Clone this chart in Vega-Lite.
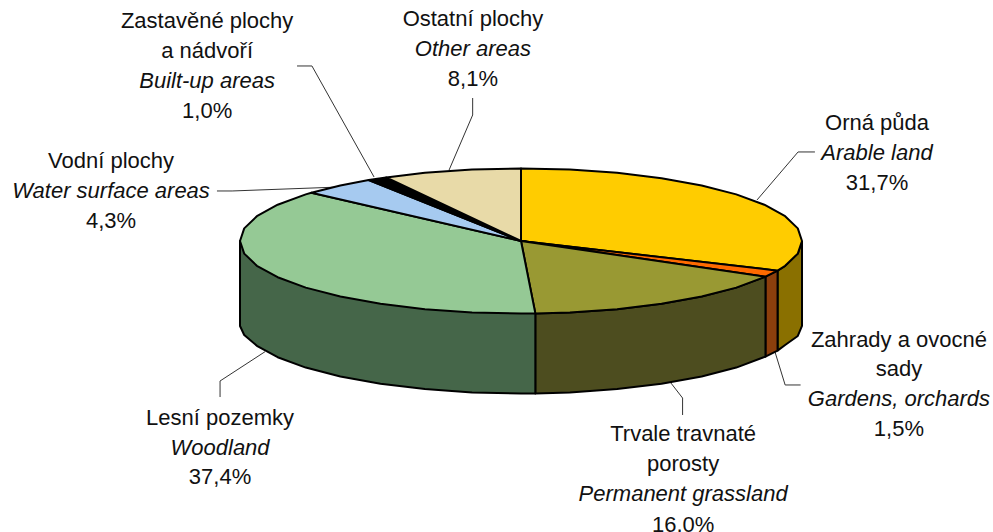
{"$schema":"https://vega.github.io/schema/vega-lite/v6.json","width":993,"height":532,"padding":0,"autosize":{"type":"none"},"background":"white","view":{"stroke":null},
"datasets":{
"sides":[
{"face":"Orná půda bok","i":0,"u":1,"v":0},{"face":"Orná půda bok","i":1,"u":0.985,"v":-0.174},{"face":"Orná půda bok","i":2,"u":0.94,"v":-0.342},{"face":"Orná půda bok","i":3,"u":0.913,"v":-0.409},{"face":"Orná půda bok","i":4,"u":0.913,"v":-1.512},{"face":"Orná půda bok","i":5,"u":0.94,"v":-1.434},{"face":"Orná půda bok","i":6,"u":0.985,"v":-1.31},{"face":"Orná půda bok","i":7,"u":1,"v":-1.17},{"face":"Orná půda bok","i":8,"u":1,"v":0},
{"face":"Zahrady bok","i":0,"u":0.913,"v":-0.409},{"face":"Zahrady bok","i":1,"u":0.87,"v":-0.492},{"face":"Zahrady bok","i":2,"u":0.87,"v":-1.595},{"face":"Zahrady bok","i":3,"u":0.913,"v":-1.512},{"face":"Zahrady bok","i":4,"u":0.913,"v":-0.409},
{"face":"Trvale bok","i":0,"u":0.87,"v":-0.492},{"face":"Trvale bok","i":1,"u":0.766,"v":-0.643},{"face":"Trvale bok","i":2,"u":0.643,"v":-0.766},{"face":"Trvale bok","i":3,"u":0.5,"v":-0.866},{"face":"Trvale bok","i":4,"u":0.342,"v":-0.94},{"face":"Trvale bok","i":5,"u":0.174,"v":-0.985},{"face":"Trvale bok","i":6,"u":0.051,"v":-0.999},{"face":"Trvale bok","i":7,"u":0.051,"v":-2.102},{"face":"Trvale bok","i":8,"u":0.174,"v":-2.088},{"face":"Trvale bok","i":9,"u":0.342,"v":-2.043},{"face":"Trvale bok","i":10,"u":0.5,"v":-1.969},{"face":"Trvale bok","i":11,"u":0.643,"v":-1.869},{"face":"Trvale bok","i":12,"u":0.766,"v":-1.746},{"face":"Trvale bok","i":13,"u":0.87,"v":-1.595},{"face":"Trvale bok","i":14,"u":0.87,"v":-0.492},
{"face":"Lesní bok","i":0,"u":0.051,"v":-0.999},{"face":"Lesní bok","i":1,"u":-1,"v":0},{"face":"Lesní bok","i":2,"u":-1,"v":-1.172},{"face":"Lesní bok","i":3,"u":-0.985,"v":-1.297},{"face":"Lesní bok","i":4,"u":-0.94,"v":-1.445},{"face":"Lesní bok","i":5,"u":-0.866,"v":-1.603},{"face":"Lesní bok","i":6,"u":-0.766,"v":-1.746},{"face":"Lesní bok","i":7,"u":-0.643,"v":-1.869},{"face":"Lesní bok","i":8,"u":-0.5,"v":-1.969},{"face":"Lesní bok","i":9,"u":-0.342,"v":-2.043},{"face":"Lesní bok","i":10,"u":-0.174,"v":-2.088},{"face":"Lesní bok","i":11,"u":0,"v":-2.103},{"face":"Lesní bok","i":12,"u":0.051,"v":-2.102},{"face":"Lesní bok","i":13,"u":0.051,"v":-0.999}
],
"tops":[
{"face":"Orná půda","i":0,"u":0,"v":0},{"face":"Orná půda","i":1,"u":0,"v":1},{"face":"Orná půda","i":2,"u":0.174,"v":0.985},{"face":"Orná půda","i":3,"u":0.342,"v":0.94},{"face":"Orná půda","i":4,"u":0.5,"v":0.866},{"face":"Orná půda","i":5,"u":0.643,"v":0.766},{"face":"Orná půda","i":6,"u":0.766,"v":0.643},{"face":"Orná půda","i":7,"u":0.866,"v":0.5},{"face":"Orná půda","i":8,"u":0.94,"v":0.342},{"face":"Orná půda","i":9,"u":0.985,"v":0.174},{"face":"Orná půda","i":10,"u":1,"v":0},{"face":"Orná půda","i":11,"u":0.985,"v":-0.174},{"face":"Orná půda","i":12,"u":0.94,"v":-0.342},{"face":"Orná půda","i":13,"u":0.913,"v":-0.409},{"face":"Orná půda","i":14,"u":0,"v":0},
{"face":"Zahrady","i":0,"u":0,"v":0},{"face":"Zahrady","i":1,"u":0.913,"v":-0.409},{"face":"Zahrady","i":2,"u":0.87,"v":-0.492},{"face":"Zahrady","i":3,"u":0,"v":0},
{"face":"Trvale","i":0,"u":0,"v":0},{"face":"Trvale","i":1,"u":0.87,"v":-0.492},{"face":"Trvale","i":2,"u":0.766,"v":-0.643},{"face":"Trvale","i":3,"u":0.643,"v":-0.766},{"face":"Trvale","i":4,"u":0.5,"v":-0.866},{"face":"Trvale","i":5,"u":0.342,"v":-0.94},{"face":"Trvale","i":6,"u":0.174,"v":-0.985},{"face":"Trvale","i":7,"u":0.051,"v":-0.999},{"face":"Trvale","i":8,"u":0,"v":0},
{"face":"Lesní","i":0,"u":0,"v":0},{"face":"Lesní","i":1,"u":0.051,"v":-0.999},{"face":"Lesní","i":2,"u":0,"v":-1},{"face":"Lesní","i":3,"u":-0.174,"v":-0.985},{"face":"Lesní","i":4,"u":-0.342,"v":-0.94},{"face":"Lesní","i":5,"u":-0.5,"v":-0.866},{"face":"Lesní","i":6,"u":-0.643,"v":-0.766},{"face":"Lesní","i":7,"u":-0.766,"v":-0.643},{"face":"Lesní","i":8,"u":-0.866,"v":-0.5},{"face":"Lesní","i":9,"u":-0.94,"v":-0.342},{"face":"Lesní","i":10,"u":-0.985,"v":-0.174},{"face":"Lesní","i":11,"u":-1,"v":0},{"face":"Lesní","i":12,"u":-0.985,"v":0.174},{"face":"Lesní","i":13,"u":-0.94,"v":0.342},{"face":"Lesní","i":14,"u":-0.866,"v":0.5},{"face":"Lesní","i":15,"u":-0.766,"v":0.643},{"face":"Lesní","i":16,"u":-0.746,"v":0.666},{"face":"Lesní","i":17,"u":0,"v":0},
{"face":"Vodní","i":0,"u":0,"v":0},{"face":"Vodní","i":1,"u":-0.746,"v":0.666},{"face":"Vodní","i":2,"u":-0.643,"v":0.766},{"face":"Vodní","i":3,"u":-0.542,"v":0.841},{"face":"Vodní","i":4,"u":0,"v":0},
{"face":"Zastavěné","i":0,"u":0,"v":0},{"face":"Zastavěné","i":1,"u":-0.542,"v":0.841},{"face":"Zastavěné","i":2,"u":-0.48,"v":0.877},{"face":"Zastavěné","i":3,"u":0,"v":0},
{"face":"Ostatní","i":0,"u":0,"v":0},{"face":"Ostatní","i":1,"u":-0.48,"v":0.877},{"face":"Ostatní","i":2,"u":-0.342,"v":0.94},{"face":"Ostatní","i":3,"u":-0.174,"v":0.985},{"face":"Ostatní","i":4,"u":0,"v":1},{"face":"Ostatní","i":5,"u":0,"v":0}
],
"leaders":[
{"l":"Ostatní","i":0,"u":-0.256,"v":0.979},{"l":"Ostatní","i":1,"u":-0.172,"v":1.738},{"l":"Ostatní","i":2,"u":-0.172,"v":1.972},
{"l":"Trvale","i":0,"u":0.53,"v":-1.941},{"l":"Trvale","i":1,"u":0.575,"v":-2.166},{"l":"Trvale","i":2,"u":0.575,"v":-2.4},
{"l":"Orná","i":0,"u":0.84,"v":0.566},{"l":"Orná","i":1,"u":0.986,"v":1.228},{"l":"Orná","i":2,"u":1.046,"v":1.228},
{"l":"Zastavěné","i":0,"u":-0.797,"v":2.414},{"l":"Zastavěné","i":1,"u":-0.744,"v":2.414},{"l":"Zastavěné","i":2,"u":-0.523,"v":0.883},
{"l":"Vodní","i":0,"u":-1.082,"v":0.69},{"l":"Vodní","i":1,"u":-1.028,"v":0.69},{"l":"Vodní","i":2,"u":-0.644,"v":0.745},
{"l":"Zahrady","i":0,"u":0.904,"v":-1.531},{"l":"Zahrady","i":1,"u":0.94,"v":-1.986},{"l":"Zahrady","i":2,"u":0.995,"v":-1.986},
{"l":"Lesní","i":0,"u":-0.911,"v":-1.527},{"l":"Lesní","i":1,"u":-1.071,"v":-1.931},{"l":"Lesní","i":2,"u":-1.071,"v":-2.152}
],
"labels":[
{"t":"Zastavěné plochy","lang":"cs","u":-1.117,"v":3.048},{"t":"a nádvoří","lang":"cs","u":-1.117,"v":2.634},{"t":"Built-up areas","lang":"en","u":-1.117,"v":2.221},{"t":"1,0%","lang":"cs","u":-1.117,"v":1.807},
{"t":"Vodní plochy","lang":"cs","u":-1.459,"v":1.117},{"t":"Water surface areas","lang":"en","u":-1.459,"v":0.703},{"t":"4,3%","lang":"cs","u":-1.459,"v":0.29},
{"t":"Ostatní plochy","lang":"cs","u":-0.171,"v":3.076},{"t":"Other areas","lang":"en","u":-0.171,"v":2.662},{"t":"8,1%","lang":"cs","u":-0.171,"v":2.248},
{"t":"Trvale travnaté","lang":"cs","u":0.577,"v":-2.648},{"t":"porosty","lang":"cs","u":0.577,"v":-3.062},{"t":"Permanent grassland","lang":"en","u":0.577,"v":-3.476},{"t":"16,0%","lang":"cs","u":0.577,"v":-3.903},
{"t":"Orná půda","lang":"cs","u":1.267,"v":1.641},{"t":"Arable land","lang":"en","u":1.267,"v":1.228},{"t":"31,7%","lang":"cs","u":1.267,"v":0.814},
{"t":"Zahrady a ovocné","lang":"cs","u":1.345,"v":-1.352},{"t":"sady","lang":"cs","u":1.345,"v":-1.752},{"t":"Gardens, orchards","lang":"en","u":1.345,"v":-2.166},{"t":"1,5%","lang":"cs","u":1.345,"v":-2.579},
{"t":"Lesní pozemky","lang":"cs","u":-1.071,"v":-2.428},{"t":"Woodland","lang":"en","u":-1.071,"v":-2.841},{"t":"37,4%","lang":"cs","u":-1.071,"v":-3.241}
]
},
"encoding":{
"x":{"field":"u","type":"quantitative","axis":null,"scale":{"domain":[-1.8541,1.6797],"nice":false,"zero":false}},
"y":{"field":"v","type":"quantitative","axis":null,"scale":{"domain":[-4.0138,3.3241],"nice":false,"zero":false}}
},
"layer":[
{"data":{"name":"leaders"},"mark":{"type":"line","stroke":"#333333","strokeWidth":1,"clip":false},"encoding":{"detail":{"field":"l"},"order":{"field":"i"}}},
{"data":{"name":"sides"},"mark":{"type":"line","filled":true,"stroke":"#000000","strokeWidth":2,"strokeJoin":"round"},"encoding":{"fill":{"field":"face","legend":null,"scale":{"domain":["Orná půda bok","Zahrady bok","Trvale bok","Lesní bok","Orná půda","Zahrady","Trvale","Lesní","Vodní","Zastavěné","Ostatní"],"range":["#8A7000","#8C3F0C","#4D4D1F","#456649","#FFCC00","#FF6A00","#999933","#95C995","#A6CAF0","#000000","#E8DAA8"]}},"order":{"field":"i"}}},
{"data":{"name":"tops"},"mark":{"type":"line","filled":true,"stroke":"#000000","strokeWidth":2,"strokeJoin":"round"},"encoding":{"fill":{"field":"face","legend":null},"order":{"field":"i"}}},
{"data":{"name":"labels"},"transform":[{"filter":"datum.lang === 'cs'"}],"mark":{"type":"text","font":"Liberation Sans","fontSize":22,"dy":1,"align":"center","baseline":"middle","color":"#111111"},"encoding":{"text":{"field":"t"}}},
{"data":{"name":"labels"},"transform":[{"filter":"datum.lang === 'en'"}],"mark":{"type":"text","font":"Liberation Sans","fontSize":22,"dy":1,"fontStyle":"italic","align":"center","baseline":"middle","color":"#111111"},"encoding":{"text":{"field":"t"}}}
]}
